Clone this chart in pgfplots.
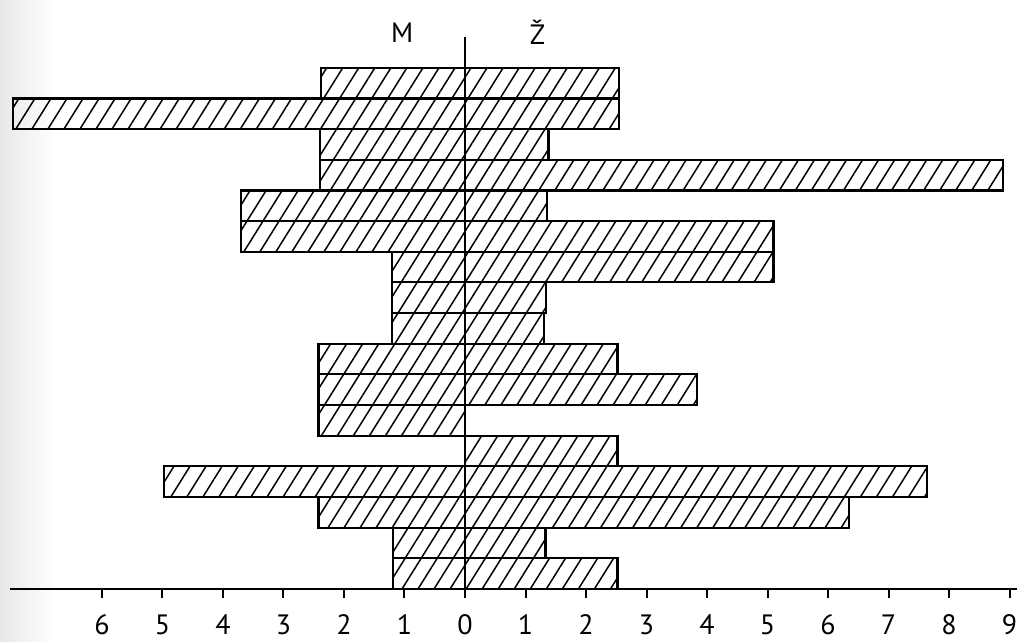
\documentclass[border=0pt]{standalone}
\usepackage{fontspec}
\setmainfont{PT Sans}
\usepackage{pgfplots}
\pgfplotsset{compat=1.18}
\usetikzlibrary{patterns.meta}

% rows from top (16.5) to bottom (0.5); M on the left as negative values
\begin{document}
\begin{tikzpicture}
\path[use as bounding box, fill=white] (-232.5pt,-26.5pt) rectangle (276pt,294.5pt);
\shade[left color=gray!18, right color=white] (-232.5pt,-26.5pt) rectangle (-205pt,294.5pt);
\begin{axis}[
    anchor=origin, at={(0pt,0pt)},
    x=30.25pt, y=15.33pt,
    xmin=-7.52, xmax=9.15,
    ymin=0, ymax=18,
    clip=false,
    axis x line*=bottom,
    axis y line=none,
    axis line style={black, line width=1.1pt},
    xtick={-6,...,9},
    xticklabels={6,5,4,3,2,1,0,1,2,3,4,5,6,7,8,9},
    ytick=\empty,
    tick align=outside,
    major tick length=4.5pt,
    tick style={black, line width=1pt},
    xticklabel style={font=\fontsize{14}{16}\selectfont, inner sep=0pt, anchor=north, yshift=-8.3pt},
    /pgf/number format/assume math mode=true,
]
% M
\addplot[xbar, bar width=1, bar shift=0, draw=black, line width=1.1pt,
    pattern={Lines[angle=58, distance=6.8pt, line width=0.75pt]}, pattern color=black]
coordinates {
    (-2.38,16.5) (-7.47,15.5) (-2.40,14.5) (-2.40,13.5) (-3.70,12.5)
    (-3.70,11.5) (-1.20,10.5) (-1.20,9.5)  (-1.20,8.5)  (-2.42,7.5)
    (-2.42,6.5)  (-2.42,5.5)  (0,4.5)      (-4.98,3.5)  (-2.42,2.5)
    (-1.19,1.5)  (-1.19,0.5)
};
% Ž
\addplot[xbar, bar width=1, bar shift=0, draw=black, line width=1.1pt,
    pattern={Lines[angle=58, distance=6.8pt, line width=0.75pt]}, pattern color=black]
coordinates {
    (2.55,16.5) (2.55,15.5) (1.38,14.5) (8.89,13.5) (1.36,12.5)
    (5.10,11.5) (5.10,10.5) (1.34,9.5)  (1.30,8.5)  (2.52,7.5)
    (3.83,6.5)  (0,5.5)     (2.52,4.5)  (7.63,3.5)  (6.35,2.5)
    (1.33,1.5)  (2.52,0.5)
};
\draw[black, line width=1.1pt] (axis cs:0,0) -- (axis cs:0,18);
\node[font=\fontsize{14}{16}\selectfont] at (axis cs:-1.04,18.14) {M};
\node[font=\fontsize{14}{16}\selectfont] at (axis cs:1.2,18.14) {Ž};
\end{axis}
\end{tikzpicture}
\end{document}
